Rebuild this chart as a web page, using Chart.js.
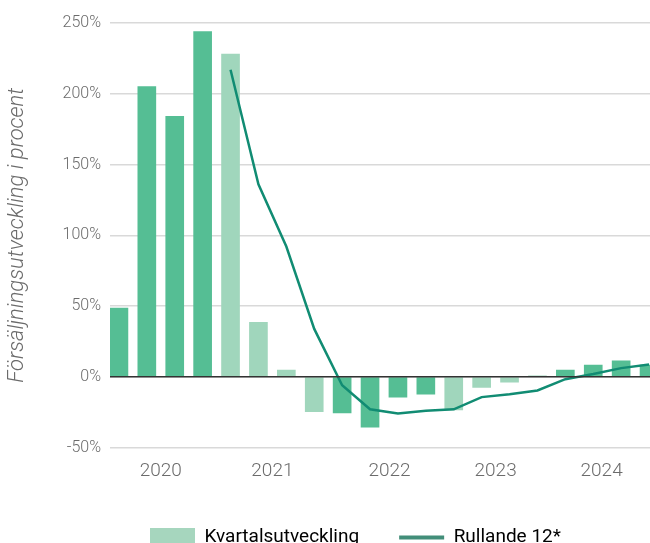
<!DOCTYPE html>
<html>
<head>
<meta charset="utf-8">
<script src="https://cdn.jsdelivr.net/npm/chart.js@4.4.1/dist/chart.umd.min.js"></script>
<style>
    html, body { margin: 0; padding: 0; background: #fff; overflow: hidden; }
    #wrap { width: 650px; height: 543px; overflow: hidden; }
</style>
</head>
<body>
<div id="wrap"><canvas id="salesChart" width="663" height="560"></canvas></div>
<script>
// kvartal: Q1 2020 .. Q4 2024
const quarters = [
    'Q1 2020', 'Q2 2020', 'Q3 2020', 'Q4 2020',
    'Q1 2021', 'Q2 2021', 'Q3 2021', 'Q4 2021',
    'Q1 2022', 'Q2 2022', 'Q3 2022', 'Q4 2022',
    'Q1 2023', 'Q2 2023', 'Q3 2023', 'Q4 2023',
    'Q1 2024', 'Q2 2024', 'Q3 2024', 'Q4 2024'
];
const kvartalsutveckling = [
    48.6, 205, 184, 244,
    228, 38.5, 4.7, -24.6,
    -25.5, -35.6, -14.4, -12.3,
    -23.4, -7.6, -3.8, 0.6,
    4.7, 8.3, 11.3, 8.3
];
const rullande12 = [
    null, null, null, null,
    217, 136, 92, 33.8,
    -6, -23, -26, -24,
    -23, -14.4, -12.3, -9.7,
    -1.7, 1.9, 6.1, 8.7
];
const yearLabels = ['2020', '2021', '2022', '2023', '2024'];
const yearTickPos = [1.5, 5.5, 9.7, 13.5, 17.3];
const yTicks = [-50, 0, 50, 100, 150, 200, 250];

const DARK = '#55be94';
const LIGHT = '#a0d6bc';
const LINE = '#118c73';

const barColors = quarters.map((q, i) => (Math.floor(i / 4) % 2 === 0 ? DARK : LIGHT));

new Chart(document.getElementById('salesChart'), {
    type: 'bar',
    data: {
        datasets: [{
            type: 'line',
            label: 'Rullande 12*',
            data: rullande12.map((v, i) => ({ x: i, y: v })).filter(p => p.y !== null),
            borderColor: LINE,
            backgroundColor: LINE,
            borderWidth: 2.5,
            pointRadius: 0,
            tension: 0,
            order: 0
        }, {
            type: 'bar',
            label: 'Kvartalsutveckling',
            data: kvartalsutveckling.map((v, i) => ({ x: i, y: v })),
            backgroundColor: barColors,
            barThickness: 18,
            order: 1
        }]
    },
    options: {
        responsive: false,
        animation: false,
        layout: { padding: { top: 23, bottom: 3, left: 0, right: 0 } },
        plugins: {
            tooltip: { enabled: false },
            legend: {
                position: 'bottom',
                align: 'start',
                fullSize: false,
                labels: {
                    usePointStyle: true,
                    pointStyleWidth: 45,
                    padding: 40,
                    color: '#111111',
                    font: { family: 'Roboto', size: 19 },
                    generateLabels: () => [{
                        text: 'Kvartalsutveckling',
                        fillStyle: '#a6d6be',
                        strokeStyle: '#a6d6be',
                        lineWidth: 0,
                        pointStyle: 'rect',
                        datasetIndex: 1
                    }, {
                        text: 'Rullande 12*',
                        fillStyle: '#428e79',
                        strokeStyle: '#428e79',
                        lineWidth: 4,
                        pointStyle: 'line',
                        datasetIndex: 0
                    }]
                }
            }
        },
        scales: {
            x: {
                type: 'linear',
                offset: false,
                min: -0.32,
                max: 19.5,
                grid: { display: false, offset: false },
                border: { display: false },
                afterBuildTicks: (scale) => {
                    scale.ticks = yearTickPos.map(v => ({ value: v }));
                },
                afterFit: (scale) => { scale.height = 40.5; },
                ticks: {
                    autoSkip: false,
                    maxRotation: 0,
                    padding: 4,
                    color: '#6b6b6b',
                    font: { family: 'Roboto', size: 19, weight: 300 },
                    callback: (v, i) => yearLabels[i]
                }
            },
            y: {
                min: -50,
                max: 250,
                afterBuildTicks: (scale) => {
                    scale.ticks = yTicks.map(v => ({ value: v }));
                },
                afterFit: (scale) => { scale.width = 110; },
                grid: {
                    drawTicks: false,
                    color: '#d9d9d9',
                    lineWidth: 1.5
                },
                border: { display: false },
                ticks: {
                    padding: 9,
                    color: '#6b6b6b',
                    font: { family: 'Roboto', size: 16, weight: 300 },
                    callback: (v) => v + '%'
                },
                title: {
                    display: true,
                    text: 'Försäljningsutveckling i procent',
                    color: '#6b6b6b',
                    padding: { top: 4, bottom: 0 },
                    font: { family: 'Roboto', size: 22, style: 'italic', weight: 300 }
                }
            },
            // zero line drawn above the bars
            yZero: {
                position: 'left',
                min: -50,
                max: 250,
                afterBuildTicks: (scale) => {
                    scale.ticks = [{ value: 0 }];
                },
                afterFit: (scale) => { scale.width = 0; },
                ticks: { display: false },
                border: { display: false },
                grid: {
                    z: 1,
                    drawTicks: false,
                    color: '#333333',
                    lineWidth: 1.5
                }
            }
        }
    }
});
</script>
</body>
</html>
